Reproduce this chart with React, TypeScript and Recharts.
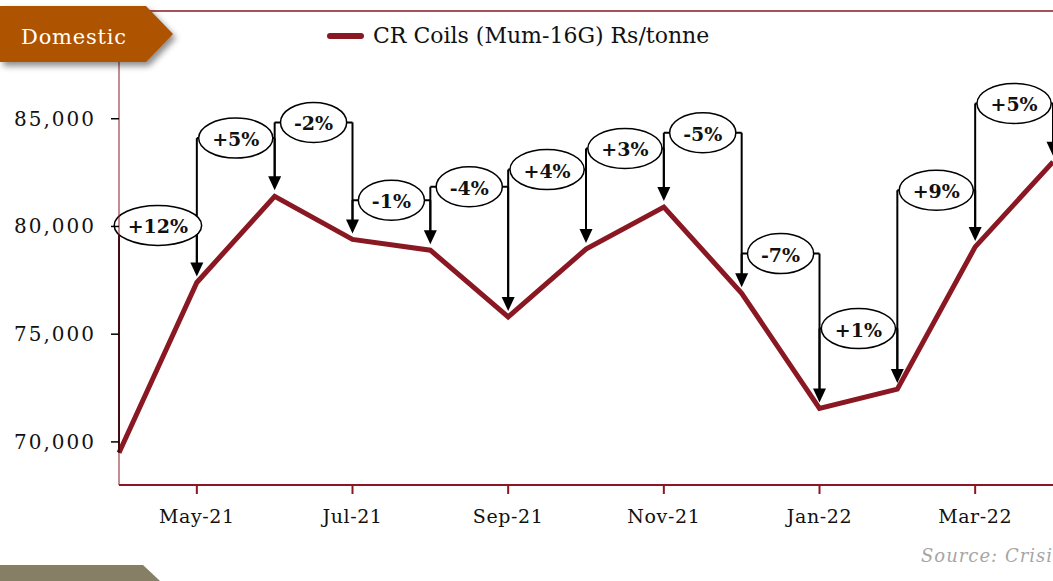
import React from "react";
import { LineChart, Line, XAxis, YAxis, ReferenceLine, Legend } from "recharts";

// ─── Data ────────────────────────────────────────────────────────────────────

const months = [
  "Apr-21", "May-21", "Jun-21", "Jul-21", "Aug-21", "Sep-21", "Oct-21",
  "Nov-21", "Dec-21", "Jan-22", "Feb-22", "Mar-22", "Apr-22",
];
const crCoilPrices = [
  69500, 77400, 81400, 79400, 78900, 75800, 78950,
  80900, 76900, 71550, 72450, 79050, 83000,
];
// month-on-month change callouts (index 0 has none)
const changeLabels = [
  "", "+12%", "+5%", "-2%", "-1%", "-4%", "+4%",
  "+3%", "-5%", "-7%", "+1%", "+9%", "+5%",
];
// height (Rs/tonne) at which each callout bracket sits
const bracketLevels = [
  0, 80050, 84100, 84830, 81220, 81840, 82640,
  83620, 84350, 78740, 75260, 81680, 85710,
];
const xTicks = ["May-21", "Jul-21", "Sep-21", "Nov-21", "Jan-22", "Mar-22"];
const yTicks = [70000, 75000, 80000, 85000];

const chartData = months.map((month, i) => ({ month, price: crCoilPrices[i] }));

// ─── Styling ─────────────────────────────────────────────────────────────────

const RED = "#8A1822";
const SERIF = "'DejaVu Serif', serif";
const ARROW_GAP = 6;
const HEAD_H = 14;
const HEAD_W = 13;

const boldWidths: Record<string, number> = { "+": 0.838, "-": 0.415, "%": 1.002 };
const textWidth = (s: string, size: number) =>
  s.split("").reduce((w, c) => w + (boldWidths[c] ?? 0.696), 0) * size;

// ─── Callout pieces ──────────────────────────────────────────────────────────

function Leg(props: any) {
  const { x1, y1, y2, trim } = props;
  if (x1 == null) return null;
  return <line x1={x1} x2={x1} y1={y1} y2={y2 - trim} stroke="#000" strokeWidth={2} />;
}

function Arrow(props: any) {
  const { x1, y1, y2 } = props;
  if (x1 == null) return null;
  const tip = y2 - ARROW_GAP;
  return (
    <g>
      <line x1={x1} x2={x1} y1={y1} y2={tip - HEAD_H + 1} stroke="#000" strokeWidth={2} />
      <polygon
        points={`${x1 - HEAD_W / 2},${tip - HEAD_H} ${x1 + HEAD_W / 2},${tip - HEAD_H} ${x1},${tip}`}
        fill="#000"
      />
    </g>
  );
}

function Bracket(props: any) {
  const { x1, x2, y1, text } = props;
  if (x1 == null) return null;
  const cx = (x1 + x2) / 2;
  const rx = textWidth(text, 19) / 2 + 13;
  return (
    <g>
      <line x1={x1} x2={x2} y1={y1} y2={y1} stroke="#000" strokeWidth={2} />
      <ellipse cx={cx} cy={y1} rx={rx} ry={20} fill="#fff" stroke="#000" strokeWidth={1.5} />
      <text
        x={cx}
        y={y1 + 1}
        textAnchor="middle"
        dominantBaseline="central"
        style={{ fontFamily: SERIF, fontSize: 19, fontWeight: 700, fill: "#111" }}
      >
        {text}
      </text>
    </g>
  );
}

// ─── Axis ticks ──────────────────────────────────────────────────────────────

function YTick({ x, y, payload }: any) {
  return (
    <text
      x={x}
      y={y}
      textAnchor="end"
      dominantBaseline="central"
      style={{ fontFamily: SERIF, fontSize: 20, fill: "#111", letterSpacing: 2 }}
    >
      {payload.value.toLocaleString("en-US")}
    </text>
  );
}

function XTick({ x, y, payload }: any) {
  return (
    <text
      x={x}
      y={y + 29}
      textAnchor="middle"
      style={{ fontFamily: SERIF, fontSize: 19, fill: "#111", letterSpacing: 0.6 }}
    >
      {payload.value}
    </text>
  );
}

function LegendContent() {
  return (
    <div style={{ display: "flex", alignItems: "center", fontFamily: SERIF, fontSize: 22, color: "#111", lineHeight: "26px" }}>
      <span style={{ display: "inline-block", width: 37, height: 6, borderRadius: 3, background: RED, marginRight: 9 }} />
      CR Coils (Mum-16G) Rs/tonne
    </div>
  );
}

export default function App() {
  const pairs = months.slice(1).map((m, k) => k + 1);

  return (
    <div style={{ position: "absolute", left: 0, top: 0, width: 1053, height: 581, overflow: "hidden", background: "#fff" }}>
      <LineChart
        width={1053}
        height={581}
        data={chartData}
        margin={{ top: 11, right: 0, bottom: 56, left: 0 }}
      >
        <XAxis
          dataKey="month"
          ticks={xTicks}
          interval={0}
          height={40}
          tickSize={9}
          tickMargin={0}
          axisLine={{ stroke: RED, strokeWidth: 2 }}
          tickLine={{ stroke: RED, strokeWidth: 2 }}
          tick={<XTick />}
        />
        <YAxis
          width={119}
          domain={[68000, 90000]}
          ticks={yTicks}
          tickSize={8}
          tickMargin={15}
          axisLine={{ stroke: RED, strokeWidth: 1 }}
          tickLine={{ stroke: "#000", strokeWidth: 1.5 }}
          tick={<YTick />}
        />
        <ReferenceLine y={90000} stroke={RED} strokeWidth={1.5} />
        <Legend
          layout="horizontal"
          verticalAlign="middle"
          align="center"
          wrapperStyle={{ top: 23, left: 327, width: "auto" }}
          content={<LegendContent />}
        />
        <Line
          type="linear"
          dataKey="price"
          stroke={RED}
          strokeWidth={5}
          dot={false}
          activeDot={false}
          isAnimationActive={false}
        />
        {pairs.map((i) => (
          <ReferenceLine
            key={`leg-${i}`}
            ifOverflow="visible"
            segment={[
              { x: months[i - 1], y: bracketLevels[i] },
              { x: months[i - 1], y: crCoilPrices[i - 1] },
            ]}
            shape={(p: any) => <Leg {...p} trim={i === 1 ? 0 : ARROW_GAP + HEAD_H - 2} />}
          />
        ))}
        {pairs.map((i) => (
          <ReferenceLine
            key={`arrow-${i}`}
            ifOverflow="visible"
            segment={[
              { x: months[i], y: bracketLevels[i] },
              { x: months[i], y: crCoilPrices[i] },
            ]}
            shape={(p: any) => <Arrow {...p} />}
          />
        ))}
        {pairs.map((i) => (
          <ReferenceLine
            key={`bracket-${i}`}
            ifOverflow="visible"
            segment={[
              { x: months[i - 1], y: bracketLevels[i] },
              { x: months[i], y: bracketLevels[i] },
            ]}
            shape={(p: any) => <Bracket {...p} text={changeLabels[i]} />}
          />
        ))}
      </LineChart>

      {/* section tag, top left */}
      <svg width={190} height={75} style={{ position: "absolute", left: 0, top: 0, overflow: "visible" }}>
        <polygon
          points="0,6 146,6 173,34 146,62 0,62"
          fill="#AE5300"
          style={{ filter: "drop-shadow(3px 4px 3px rgba(0,0,0,0.45))" }}
        />
        <text x={21} y={44} style={{ fontFamily: SERIF, fontSize: 21, fill: "#fff", letterSpacing: 0.8 }}>
          Domestic
        </text>
      </svg>

      {/* next section tag, bottom left */}
      <svg width={180} height={20} style={{ position: "absolute", left: 0, top: 565 }}>
        <polygon points="0,0 143,0 160,16 0,16" fill="#877E66" />
      </svg>

      <div
        style={{
          position: "absolute",
          left: 921,
          top: 545,
          whiteSpace: "nowrap",
          fontFamily: SERIF,
          fontStyle: "italic",
          fontSize: 18,
          letterSpacing: 1,
          color: "#A6A6A6",
        }}
      >
        Source: Crisil
      </div>
    </div>
  );
}
